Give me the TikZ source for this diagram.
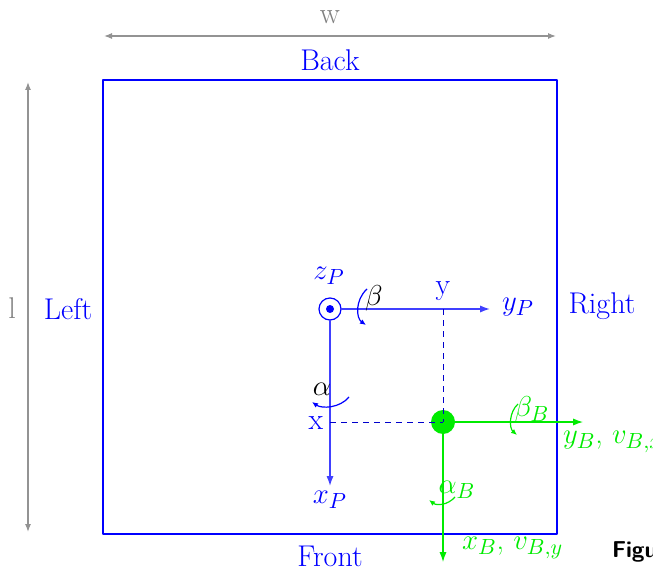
\documentclass[tikz,border=0pt]{standalone}
\usepackage{amsmath}
\usepackage{tikz}
\usetikzlibrary{arrows.meta}
\definecolor{FieldBlue}{RGB}{0,0,255}
\definecolor{BallGreen}{RGB}{0,235,0}
\definecolor{DimGray}{RGB}{128,128,128}

\begin{document}
\begin{tikzpicture}[
x=0.5pt,
y=-0.5pt,
every node/.style={font=\fontsize{15}{18}\selectfont,inner sep=1pt,outer sep=0pt},
dimLabel/.style={text=DimGray},
sideLabel/.style={text=FieldBlue},
plateLabel/.style={text=FieldBlue},
ballLabel/.style={text=BallGreen},
fieldframe/.style={draw=FieldBlue,line width=1.1pt,line join=round},
dimline/.style={{Latex[length=4pt,width=3pt]}-{Latex[length=4pt,width=3pt]},line width=0.6pt,draw=DimGray!85},
plateaxis/.style={-{Latex[length=5pt,width=3.6pt]},line width=0.7pt,draw=FieldBlue!75},
ballaxis/.style={-{Latex[length=5pt,width=3.6pt]},line width=0.6pt,draw=BallGreen},
projline/.style={dashed,dash pattern=on 3pt off 2.5pt,line width=0.5pt,draw=FieldBlue!80!black},
platerot/.style={-{Latex[length=3pt,width=2.6pt]},line width=0.6pt,draw=FieldBlue},
ballrot/.style={-{Latex[length=3pt,width=2.6pt]},line width=0.6pt,draw=BallGreen}
]

\path[use as bounding box] (0,0) rectangle (653,572);

% field outline
\coordinate (fieldNW) at (103,80);
\coordinate (fieldSE) at (557,534);
\draw[fieldframe] (fieldNW) rectangle (fieldSE);

% dimensions
\coordinate (wLeft) at (104,36);
\coordinate (wRight) at (556,36);
\coordinate (lTop) at (28,82);
\coordinate (lBottom) at (28,532);
\draw[dimline] (wLeft) -- (wRight);
\draw[dimline] (lBottom) -- (lTop);
\node[dimLabel] (wlab) at (330,17) {w};
\node[dimLabel] (llab) at (12,308) {l};

\node[sideLabel] (back) at (330,60) {Back};
\node[sideLabel] (front) at (330,556) {Front};
\node[sideLabel] (left) at (68,309) {Left};
\node[sideLabel] (right) at (602,306) {Right};

% plate frame
\node[circle,draw=FieldBlue,line width=0.6pt,minimum size=11pt,inner sep=0pt] (origin) at (330,309) {};
\fill[FieldBlue] (origin.center) circle (2pt);
\coordinate (yPtip) at (490,309);
\coordinate (xPtip) at (330,486);
\draw[plateaxis] (origin) -- (yPtip);
\draw[plateaxis] (origin) -- (xPtip);
\node[plateLabel] (zP) at (329,276) {$z_P$};
\node[plateLabel] (yP) at (518,307) {$y_P$};
\node[plateLabel] (xP) at (330,500) {$x_P$};

% ball and projections
\node[circle,fill=BallGreen,minimum size=12pt,inner sep=0pt] (ball) at (443,422) {};
\coordinate (yMark) at (443,309);
\coordinate (xMark) at (330,422);
\draw[projline] (yMark) -- (ball.center);
\draw[projline] (xMark) -- (ball.center);
\node[plateLabel] (ylab) at (443,291) {y};
\node[plateLabel] (xlab) at (316,423) {x};

% plate rotations
\draw[platerot] (367,289) .. controls (355,300) and (356,318) .. (366,325);
\node (beta) at (374,298) {$\beta$};
\draw[platerot] (349,397) .. controls (340,408) and (322,409) .. (312,402);
\node (alpha) at (322,389) {$\alpha$};

% ball frame
\coordinate (yBtip) at (583,422);
\coordinate (xBtip) at (443,562);
\draw[ballaxis] (ball) -- (yBtip);
\draw[ballaxis] (ball) -- (xBtip);
\node[ballLabel,anchor=west] (yB) at (561,442) {$y_B$, $v_{B,x}$};
\node[ballLabel,anchor=west] (xB) at (460,548) {$x_B$, $v_{B,y}$};
\draw[ballrot] (518,404) .. controls (509,412) and (509,428) .. (517,435);
\node[ballLabel] (betaB) at (532,409) {$\beta_B$};
\draw[ballrot] (455,497) .. controls (448,505) and (437,506) .. (429,500);
\node[ballLabel] (alphaB) at (457,490) {$\alpha_B$};

\node[anchor=west,font=\fontsize{11.5}{14}\sffamily\bfseries] (caption) at (610,552) {Figure};

\end{tikzpicture}
\end{document}
